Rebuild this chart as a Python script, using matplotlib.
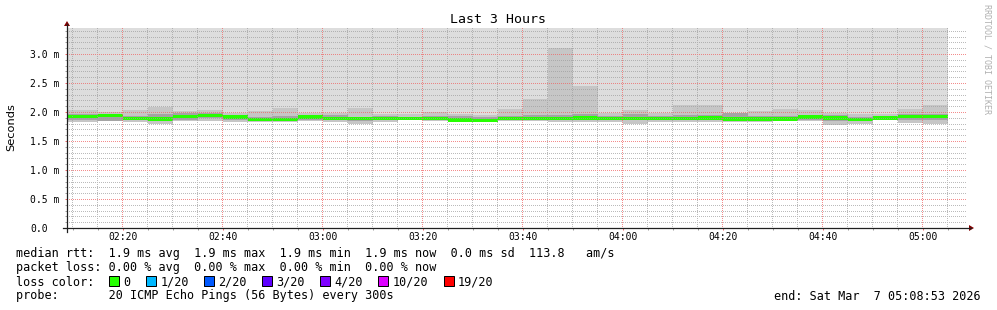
import numpy as np
import matplotlib
matplotlib.use("Agg")
import matplotlib.pyplot as plt
from matplotlib.patches import Rectangle, Polygon
from matplotlib.lines import Line2D

# ---------------- data ----------------
start_time = "02:08:53"
end_time = "05:08:53"
step_ends = ["02:15", "02:20", "02:25", "02:30", "02:35", "02:40", "02:45", "02:50",
             "02:55", "03:00", "03:05", "03:10", "03:15", "03:20", "03:25", "03:30",
             "03:35", "03:40", "03:45", "03:50", "03:55", "04:00", "04:05", "04:10",
             "04:15", "04:20", "04:25", "04:30", "04:35", "04:40", "04:45", "04:50",
             "04:55", "05:00", "05:05"]
median_ms = [1.92, 1.94, 1.89, 1.88, 1.92, 1.94, 1.91, 1.87, 1.875, 1.91,
             1.89, 1.89, 1.89, 1.89, 1.89, 1.86, 1.85, 1.89, 1.89, 1.89,
             1.90, 1.89, 1.89, 1.89, 1.89, 1.90, 1.88, 1.88, 1.88, 1.91,
             1.90, 1.87, 1.90, 1.92, 1.92]
smoke_top_ms = [2.03, 2.00, 2.03, 2.09, 2.02, 2.03, 1.98, 2.02, 2.07, 1.98,
                1.98, 2.07, 1.96, 1.97, 2.00, 1.97, 1.95, 2.05, 2.22, 3.10,
                2.45, 1.98, 2.03, 1.98, 2.12, 2.12, 1.98, 2.02, 2.05, 2.03,
                1.98, 1.97, 1.96, 2.05, 2.12]
smoke_bottom_ms = [1.82, 1.84, 1.83, 1.79, 1.84, 1.85, 1.83, 1.82, 1.82, 1.84,
                   1.83, 1.80, 1.82, 1.86, 1.85, 1.83, 1.83, 1.84, 1.84, 1.83,
                   1.82, 1.82, 1.80, 1.83, 1.83, 1.82, 1.83, 1.82, 1.84, 1.84,
                   1.78, 1.80, 1.87, 1.81, 1.80]
core_hi_ms = [1.97, 1.97, 1.93, 1.96, 1.98, 1.98, 1.94, 1.92, 1.93, 1.94,
              1.95, 1.92, 1.93, 1.92, 1.93, 1.93, 1.91, 1.93, 1.94, 1.95,
              1.96, 1.93, 1.97, 1.93, 1.95, 1.95, 1.98, 1.93, 1.93, 1.95,
              1.94, 1.92, 1.93, 1.96, 1.97]
core_lo_ms = [1.87, 1.85, 1.86, 1.84, 1.87, 1.89, 1.87, 1.85, 1.85, 1.87,
              1.86, 1.85, 1.86, 1.87, 1.87, 1.85, 1.84, 1.86, 1.86, 1.86,
              1.86, 1.86, 1.86, 1.86, 1.86, 1.86, 1.86, 1.86, 1.86, 1.87,
              1.84, 1.84, 1.88, 1.87, 1.86]
x_tick_labels = ["02:20", "02:40", "03:00", "03:20", "03:40", "04:00", "04:20", "04:40", "05:00"]
y_tick_values = [0.0, 0.5, 1.0, 1.5, 2.0, 2.5, 3.0]
y_tick_labels = ["0.0", "0.5 m", "1.0 m", "1.5 m", "2.0 m", "2.5 m", "3.0 m"]
y_max = 200 / 58
loss_labels = ["0", "1/20", "2/20", "3/20", "4/20", "10/20", "19/20"]
loss_colors = ["#26ff00", "#00b8ff", "#0059ff", "#5e00ff", "#7e00ff", "#dd00ff", "#ff0000"]
title = "Last 3 Hours"
ylabel = "Seconds"
legend_lines = [
    "median rtt:  1.9 ms avg  1.9 ms max  1.9 ms min  1.9 ms now  0.0 ms sd  113.8   am/s",
    "packet loss: 0.00 % avg  0.00 % max  0.00 % min  0.00 % now",
    "loss color:",
    "probe:       20 ICMP Echo Pings (56 Bytes) every 300s",
]
end_label = "end: Sat Mar  7 05:08:53 2026"
watermark = "RRDTOOL / TOBI OETIKER"


def to_min(s):
    p = [int(v) for v in s.split(":")]
    return p[0] * 60 + p[1] + (p[2] / 60.0 if len(p) > 2 else 0.0)


edges = np.array([to_min(start_time)] + [to_min(t) for t in step_ends])
median = np.array(median_ms)
top = np.array(smoke_top_ms)
bot = np.array(smoke_bottom_ms)
chi = np.array(core_hi_ms)
clo = np.array(core_lo_ms)

W, H = 997, 310
fig = plt.figure(figsize=(W / 100, H / 100), dpi=100)
fig.patch.set_facecolor("white")

X0, Y0, XS, YS = 67, 228, 900, 200
ax = fig.add_axes([X0 / W, (H - Y0) / H, XS / W, YS / H])
ax.set_zorder(0)
ax.set_facecolor("white")
x_lo, x_hi = to_min(start_time), to_min(end_time)
ax.set_xlim(x_lo, x_hi)
ax.set_ylim(0, y_max)
for s in ax.spines.values():
    s.set_visible(False)

# smoke
ax.stairs(np.full(len(median), y_max), edges, baseline=top, fill=True, color="#dddddd", lw=0)
ax.stairs(top, edges, baseline=bot, fill=True, color="#c6c6c6", lw=0)
ax.stairs(chi, edges, baseline=clo, fill=True, color="#a4a4a4", lw=0)
half = 0.03
ax.stairs(median + half, edges, baseline=median - half, fill=True, color=loss_colors[0], lw=0)

# ticks
GRID = (0.62, 0.62, 0.62, 0.7)
MGRID = (0.94, 0.40, 0.40, 0.75)
major_x = [to_min(t) for t in x_tick_labels]
minor_x = [v for v in np.arange(np.ceil(x_lo / 5) * 5, x_hi, 5) if v not in major_x]
major_y = y_tick_values[1:]
minor_y = [v for v in np.round(np.arange(0.1, y_max, 0.1), 2) if v not in y_tick_values]
ax.set_xticks(major_x, x_tick_labels)
ax.set_xticks(minor_x, minor=True)
ax.set_yticks(y_tick_values, y_tick_labels)
ax.set_yticks(minor_y, minor=True)

# dotted grid (1 px on / 1 px off), pixel-exact, drawn over the data like rrdtool
to_px = ax.transData
ax_bottom_px = H - Y0


def row_of(v):
    return YS - int(round(to_px.transform((x_lo, v))[1] - ax_bottom_px))


def col_of(v):
    return int(np.floor(to_px.transform((v, 0.0))[0] - X0))


major_rows = {row_of(v) for v in major_y}
minor_rows = {row_of(v) for v in minor_y} - major_rows
major_cols = {col_of(v) for v in major_x}
minor_cols = {col_of(v) for v in minor_x} - major_cols

grid_img = np.zeros((YS, XS, 4))
even_c = np.arange(XS) % 2 == 0
even_r = np.arange(YS) % 2 == 0
for r in sorted(minor_rows):
    if 0 <= r < YS:
        grid_img[r, even_c, :] = GRID
for c in sorted(minor_cols):
    if 0 <= c < XS:
        grid_img[even_r, c, :] = GRID
for r in sorted(major_rows):
    if 0 <= r < YS:
        grid_img[r, even_c, :] = MGRID
for c in sorted(major_cols):
    if 0 <= c < XS:
        grid_img[even_r, c, :] = MGRID
fig.figimage(grid_img, xo=X0, yo=H - Y0, origin="upper", zorder=1)

mono = "DejaVu Sans Mono"
ax.tick_params(axis="x", which="major", direction="out", length=1.44, width=0.72,
               color=MGRID[:3], pad=1.6, labelsize=7, labelcolor="black")
ax.tick_params(axis="x", which="minor", direction="out", length=1.44, width=0.72, color=GRID[:3])
ax.tick_params(axis="y", which="major", direction="out", length=1.44, width=0.72,
               color=MGRID[:3], pad=25.2, labelsize=7, labelcolor="black")
ax.tick_params(axis="y", which="minor", direction="out", length=1.44, width=0.72, color=GRID[:3])
for lab in ax.get_xticklabels():
    lab.set_family(mono)
for lab in ax.get_yticklabels():
    lab.set_family(mono)
    lab.set_horizontalalignment("left")

# overlay in pixel coordinates
ov = fig.add_axes([0, 0, 1, 1])
ov.set_xlim(0, W)
ov.set_ylim(H, 0)
ov.axis("off")
ov.set_zorder(10)

AX = "#202020"
ov.add_line(Line2D([X0 - 4, X0 + XS + 4], [Y0, Y0], color=AX, lw=0.9))
ov.add_line(Line2D([X0, X0], [Y0 + 4, Y0 - YS - 4], color=AX, lw=0.9))
ov.add_patch(Polygon([[X0 + XS + 2, Y0 - 3], [X0 + XS + 2, Y0 + 3], [X0 + XS + 7, Y0]],
                     closed=True, color="#800000", lw=0))
ov.add_patch(Polygon([[X0 - 3, Y0 - YS - 2], [X0 + 3, Y0 - YS - 2], [X0, Y0 - YS - 7]],
                     closed=True, color="#800000", lw=0))

ov.text(497.5, 19.3, title, family=mono, fontsize=9.5, ha="center", va="center")
ov.text(11, 127, ylabel, family="DejaVu Sans", fontsize=8.2, rotation=90, ha="center", va="center")
ov.text(987, 4, watermark, family=mono, fontsize=6, rotation=-90, ha="center", va="top",
        color="#b0b0b0")

line_y = [254, 268, 282, 296]
for txt, y in zip(legend_lines, line_y):
    ov.text(16, y, txt, family=mono, fontsize=8.5, ha="left", va="center")
ov.text(981, line_y[3], end_label, family=mono, fontsize=8.5, ha="right", va="center")

box_x = [108.5, 145.8, 203.8, 261.8, 319.5, 377.8, 443.5]
for bx, lab, col in zip(box_x, loss_labels, loss_colors):
    ov.add_patch(Rectangle((bx, 276), 10, 10, facecolor=col, edgecolor="black", lw=0.72))
    ov.text(bx + 14.5, line_y[2], lab, family=mono, fontsize=8.5, ha="left", va="center")

fig.savefig("out.png", dpi=100)
